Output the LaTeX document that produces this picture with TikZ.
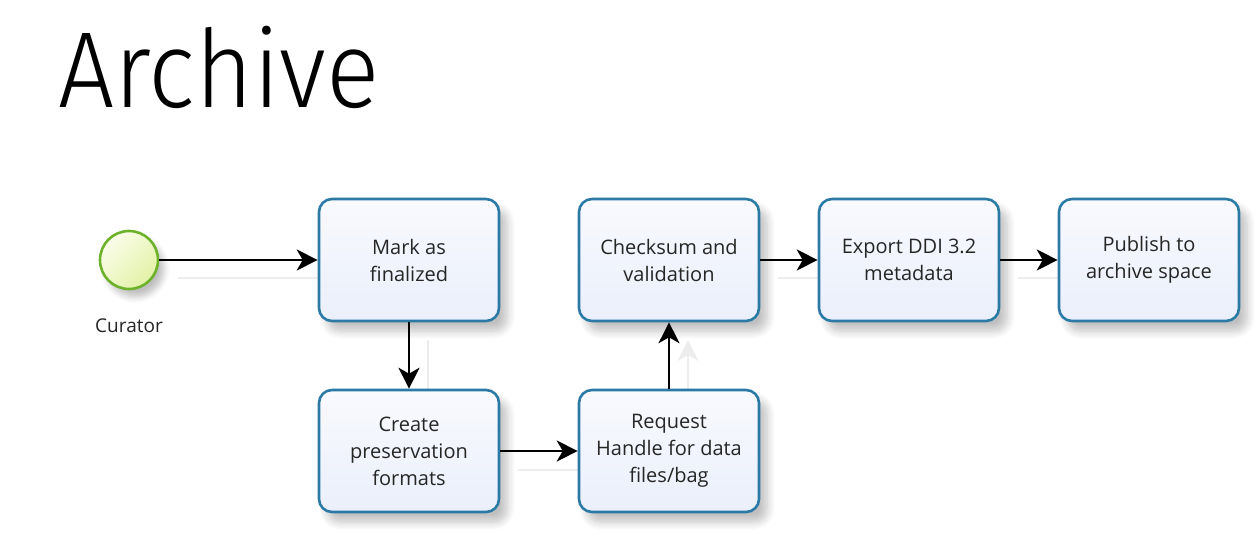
\documentclass[tikz,border=0pt]{standalone}
\usepackage{fontspec}
\setmainfont{Open Sans}
\newfontfamily\titlefont{Fira Sans Light}
\usetikzlibrary{arrows.meta,shadows.blur}
\definecolor{boxline}{HTML}{2B7AA6}
\definecolor{boxfillA}{HTML}{F9FAFE}
\definecolor{boxfillB}{HTML}{EAEFFB}
\definecolor{evline}{HTML}{6DB22A}
\definecolor{evfillA}{HTML}{FBFDEB}
\definecolor{evfillB}{HTML}{E2F2A6}
\tikzset{
  task/.style={draw=boxline, line width=2.6pt, rounded corners=13pt,
    top color=boxfillA, bottom color=boxfillB,
    minimum width=180pt, minimum height=122pt, align=center,
    font=\fontsize{20}{27}\selectfont, text=black!85,
    blur shadow={shadow xshift=8pt, shadow yshift=-10pt, shadow opacity=25, shadow blur steps=8, shadow blur radius=8pt}},
  startev/.style={circle, draw=evline, line width=2.6pt, minimum size=58pt,
    left color=evfillA, right color=evfillB, shading angle=45,
    blur shadow={shadow xshift=6pt, shadow yshift=-8pt, shadow opacity=25, shadow blur steps=6, shadow blur radius=6pt}},
  flow/.style={draw=black, line width=1.8pt, -{Stealth[length=21pt, width=21pt, inset=6pt]}},
  flowshadow/.style={draw=black!7, line width=2pt, -{Stealth[length=21pt, width=21pt, inset=6pt]}}
}
\begin{document}
\begin{tikzpicture}[x=1pt,y=-1pt]
\useasboundingbox (0,0) rectangle (1260,553);
\node[anchor=base west, font=\titlefont\fontsize{108}{108}\selectfont, inner sep=0pt] (title) at (58,108) {\scalebox{0.92}[1]{Archive}};

% shadows of connectors
\draw[flowshadow, -] (178,278) -- (318,278);
\draw[flowshadow, -] (428,340) -- (428,390);
\draw[flowshadow, -] (518,470) -- (578,470);
\draw[flowshadow] (688,390) -- (688,340);
\draw[flowshadow, -] (778,278) -- (818,278);
\draw[flowshadow, -] (1018,278) -- (1058,278);

\node[startev] (start) at (129,260) {};
\node[font=\fontsize{19}{22}\selectfont, text=black!85] (curator) at (129,326) {Curator};

\node[task] (mark) at (409,260) {Mark as\\finalized};
\node[task] (create) at (409,451) {Create\\preservation\\formats};
\node[task] (request) at (669,451) {Request\\Handle for data\\files/bag};
\node[task] (check) at (669,260) {Checksum and\\validation};
\node[task] (export) at (909,260) {Export DDI 3.2\\metadata};
\node[task] (publish) at (1149,260) {Publish to\\archive space};

\draw[flow] (start) -- (mark);
\draw[flow] (mark) -- (create);
\draw[flow] (create) -- (request);
\draw[flow] (request) -- (check);
\draw[flow] (check) -- (export);
\draw[flow] (export) -- (publish);
\end{tikzpicture}
\end{document}
